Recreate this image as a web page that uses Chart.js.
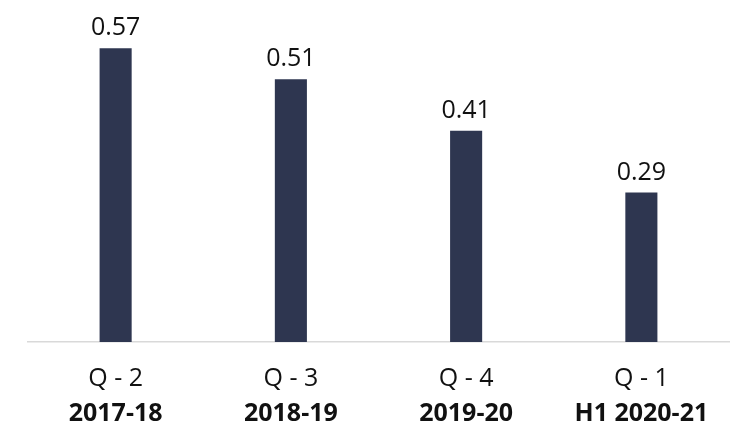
<!DOCTYPE html>
<html>
<head>
<meta charset="utf-8">
<script src="https://cdn.jsdelivr.net/npm/chart.js@4"></script>
<style>
  html, body { margin: 0; padding: 0; background: #fff; }
  #wrap { width: 743px; height: 434px; }
</style>
</head>
<body>
<div id="wrap"><canvas id="myChart"></canvas></div>
<script>
'use strict';
const quarters = ['Q - 2', 'Q - 3', 'Q - 4', 'Q - 1'];
const years = ['2017-18', '2018-19', '2019-20', 'H1 2020-21'];
const values = [0.57, 0.51, 0.41, 0.29];

const fontName = '"Open Sans", sans-serif';

// value above each bar + two line category labels
const labelPlugin = {
  id: 'labelPlugin',
  afterDatasetsDraw(chart) {
    const ctx = chart.ctx;
    const meta = chart.getDatasetMeta(0);
    const xScale = chart.scales.x;
    ctx.save();
    ctx.fillStyle = '#111';
    ctx.textAlign = 'center';
    ctx.textBaseline = 'alphabetic';
    ctx.font = '400 25px ' + fontName;
    meta.data.forEach((bar, i) => {
      ctx.fillText(values[i].toFixed(2), bar.x, bar.y - 13);
    });
    for (let i = 0; i < quarters.length; i++) {
      let x = xScale.getPixelForValue(i);
      ctx.font = '400 25px ' + fontName;
      ctx.fillText(quarters[i], x, xScale.top + 44);
      ctx.font = '700 25px ' + fontName;
      ctx.fillText(years[i], x, xScale.top + 79);
    }
    ctx.restore();
  }
};

const data = {
  labels: years,
  datasets: [
    {
      data: values,
      backgroundColor: '#2E3650',
      barPercentage: 0.183,
      categoryPercentage: 1,
    },
  ],
};

const config = {
  type: 'bar',
  data: data,
  options: {
    responsive: true,
    maintainAspectRatio: false,
    animation: false,
    layout: { padding: { left: 28, right: 14, top: 2, bottom: 0 } },
    plugins: { legend: { display: false }, tooltip: { enabled: false } },
    scales: {
      x: {
        grid: { display: false },
        border: { display: true, color: '#D9D9D9', width: 1.5 },
        ticks: { display: false },
        afterFit(scale) { scale.height = 92; },
      },
      y: {
        display: false,
        min: 0,
        max: 0.66,
      },
    },
  },
  plugins: [labelPlugin],
};

let canvasChart = document.getElementById('myChart');
const myChart = new Chart(canvasChart, config);
</script>
</body>
</html>
